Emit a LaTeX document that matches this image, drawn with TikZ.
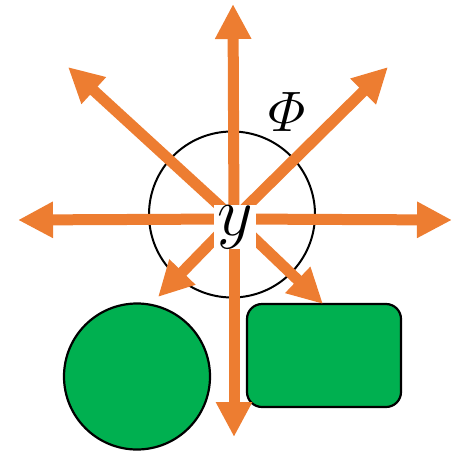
\documentclass[tikz,border=0pt]{standalone}
\usepackage{graphicx}
\usepackage{amsmath}
\usetikzlibrary{arrows.meta}
\definecolor{orng}{HTML}{ED7D31}
\definecolor{grn}{HTML}{00B050}
\begin{document}
\begin{tikzpicture}[x=1pt,y=-1pt,
  ray/.style={draw=orng,line width=11pt,-{Triangle[length=35pt,width=34pt]}},
  shapebox/.style={draw=black,line width=2.2pt,fill=grn}]
\useasboundingbox (0,0) rectangle (462,452);
% outline circle
\node[draw=black,line width=2pt,circle,minimum size=166pt,inner sep=0pt] (ring) at (232,214.5) {};
% green shapes
\node[shapebox,circle,minimum size=146pt,inner sep=0pt] (disc) at (137,376.5) {};
\node[shapebox,rounded corners=15pt,minimum width=154pt,minimum height=103pt,inner sep=0pt] (box) at (324,355.5) {};
% rays
\coordinate (c) at (234,219);
\coordinate (tU) at (233,4);
\coordinate (tD) at (234,437);
\coordinate (tL) at (18,220);
\coordinate (tR) at (452,220);
\coordinate (tUL) at (68,67);
\coordinate (tUR) at (388,67);
\coordinate (tDL) at (158,297);
\coordinate (tDR) at (323,304);
\foreach \t in {tU,tD,tL,tR,tUL,tUR,tDL,tDR}{\draw[ray] (c) -- (\t);}
% labels
\node[fill=white,inner sep=0pt,minimum width=42pt] (y) at (235,227) {\scalebox{4.0}{\LARGE$y$}};
\node[inner sep=0pt] (phi) at (287,112) {\scalebox{3.3}{\LARGE$\varPhi$}};
\end{tikzpicture}
\end{document}
